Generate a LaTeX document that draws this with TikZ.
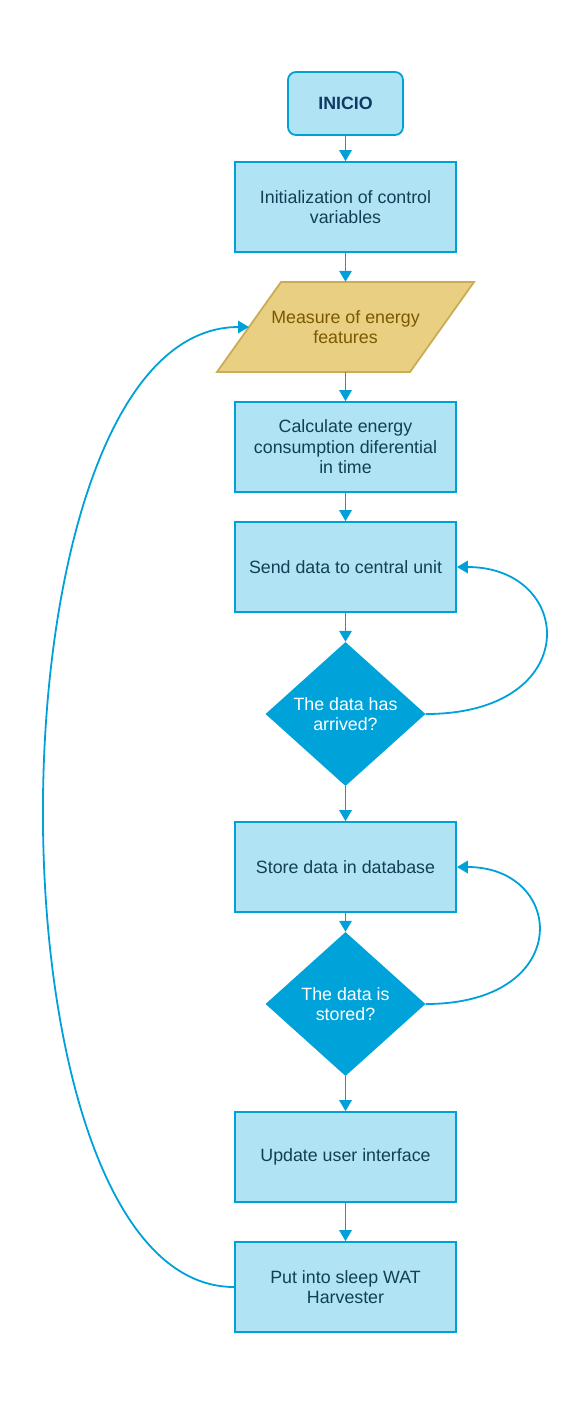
\documentclass[tikz,border=0pt]{standalone}
\usepackage{fontspec}
\setmainfont{Liberation Sans}
\usetikzlibrary{shapes.geometric,arrows.meta}
\definecolor{boxfill}{HTML}{B0E4F4}
\definecolor{boxdraw}{HTML}{00A1D8}
\definecolor{boxtext}{HTML}{123F55}
\definecolor{startext}{HTML}{0F3A66}
\definecolor{parafill}{HTML}{E9CF82}
\definecolor{paradraw}{HTML}{C9AC55}
\definecolor{paratext}{HTML}{7A5A00}
\definecolor{decfill}{HTML}{00A3D9}
\begin{document}
\begin{tikzpicture}[x=1pt,y=-1pt,
  every node/.style={font=\fontsize{17.8}{20.5}\selectfont, align=center},
  procbox/.style={draw=boxdraw, fill=boxfill, line width=1.8pt, text=boxtext, minimum width=221pt, minimum height=90pt, inner sep=0pt},
  startbox/.style={draw=boxdraw, fill=boxfill, line width=1.8pt, text=startext, rounded corners=8pt, minimum width=115pt, minimum height=63pt, inner sep=0pt, font=\fontsize{17.8}{20.5}\selectfont\bfseries},
  decbox/.style={diamond, fill=decfill, text=white, minimum width=160pt, minimum height=144pt, inner sep=0pt, aspect=1.111},
  conn/.style={draw=boxdraw, line width=1.8pt, -{Triangle[length=11pt,width=12.5pt]}}
]
\useasboundingbox (0,0) rectangle (568,1403);

\node[startbox] (start) at (345.5,103.5) {INICIO};
\node[procbox] (init) at (345.5,207) {Initialization of control\\variables};

% parallelogram
\draw[fill=parafill, draw=paradraw, line width=1.8pt] (281,282) -- (474,282) -- (410,372) -- (217,372) -- cycle;
\node[text=paratext, minimum width=193pt, minimum height=90pt, inner sep=0pt] (meas) at (345.5,327) {Measure of energy\\features};
\coordinate (measleft) at (249,327);

\node[procbox] (calc) at (345.5,447) {Calculate energy\\consumption diferential\\in time};
\node[procbox] (send) at (345.5,567) {Send data to central unit};
\node[decbox] (arr) at (345.5,714) {The data has\\arrived?};
\node[procbox] (store) at (345.5,867) {Store data in database};
\node[decbox] (stored) at (345.5,1004) {The data is\\stored?};
\node[procbox] (upd) at (345.5,1157) {Update user interface};
\node[procbox] (sleep) at (345.5,1287) {Put into sleep WAT\\Harvester};

\draw[conn] (start.south) -- (init.north);
\draw[conn] (init.south) -- (meas.north);
\draw[conn] (meas.south) -- (calc.north);
\draw[conn] (calc.south) -- (send.north);
\draw[conn] (send.south) -- (arr.north);
\draw[conn] (arr.south) -- (store.north);
\draw[conn] (store.south) -- (stored.north);
\draw[conn] (stored.south) -- (upd.north);
\draw[conn] (upd.south) -- (sleep.north);

\draw[conn] (arr.east) .. controls (585,714) and (575,567) .. (send.east);
\draw[conn] (stored.east) .. controls (575,1004) and (566,867) .. (store.east);
\draw[conn] (sleep.west) .. controls (-23,1287) and (-20,327) .. (measleft);
\end{tikzpicture}
\end{document}
